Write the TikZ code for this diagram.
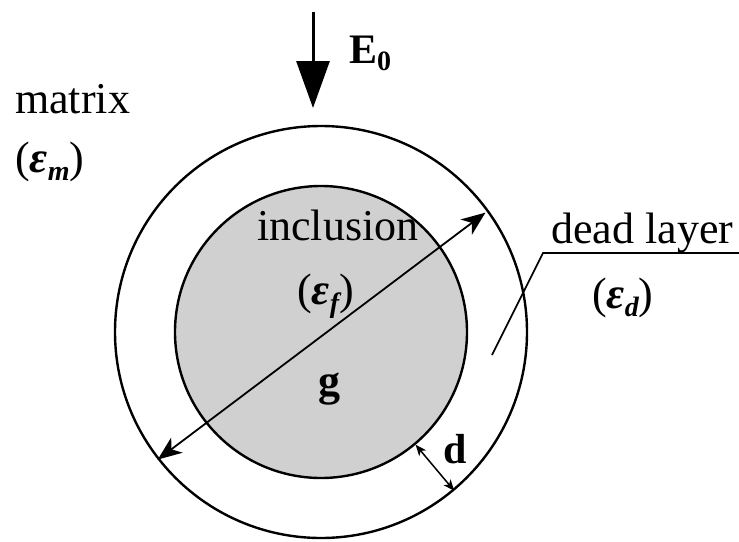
\documentclass[tikz,border=0pt]{standalone}
\usepackage{fontspec}
\setmainfont{Liberation Serif}
\usetikzlibrary{arrows.meta}
\definecolor{inclgray}{RGB}{208,208,208}
\newcommand\lowsub[1]{\raisebox{-0.4ex}{\fontsize{28}{30}\selectfont #1}}
\tikzset{
  ring/.style={circle, draw, line width=2.4pt, inner sep=0pt},
  lbl/.style={inner sep=0pt, anchor=base west, font=\fontsize{44}{50}\selectfont},
  dimarrow/.style={line width=1.8pt, {Stealth[length=24pt,width=19pt,inset=7pt]}-{Stealth[length=24pt,width=19pt,inset=7pt]}},
  smallarrow/.style={line width=1.5pt, {Stealth[length=11pt,width=9pt,inset=3pt]}-{Stealth[length=11pt,width=9pt,inset=3pt]}},
  leader/.style={line width=1.7pt},
  fieldarrow/.style={line width=3pt, -{Triangle[length=47pt,width=33pt]}}
}
\begin{document}
\begin{tikzpicture}[x=1pt, y=-1pt]
\useasboundingbox (0,0) rectangle (739,541);
% circles
\node[ring, minimum size=412pt] (outer) at (321,332) {};
\node[ring, minimum size=292pt, fill=inclgray] (inner) at (321,332) {};
% field arrow
\coordinate (etop) at (313,12);
\coordinate (etip) at (313,108);
\draw[fieldarrow] (etop) -- (etip);
% diameter arrow
\draw[dimarrow, shorten >=4pt] (outer.218) -- (outer.36);
% thickness arrow
\draw[smallarrow] (inner.-50) -- (outer.-50);
% leader line
\coordinate (ldA) at (492,355);
\coordinate (ldB) at (543,253);
\coordinate (ldC) at (739,253);
\draw[leader] (ldA) -- (ldB) -- (ldC);
% labels
\node[lbl] (matrix) at (15,113) {matrix};
\node[lbl] (epsm) at (15,172) {({\bfseries\itshape ε\lowsub{m}})};
\node[lbl, font=\fontsize{42}{46}\selectfont\bfseries] (E0) at (349,63) {E\lowsub{0}};
\node[lbl] (incl) at (257,240) {inclusion};
\node[lbl] (epsf) at (297,304) {({\bfseries\itshape ε\lowsub{f}})};
\node[lbl, font=\fontsize{44}{50}\selectfont\bfseries] (g) at (318,395) {g};
\node[lbl, font=\fontsize{42}{46}\selectfont\bfseries] (d) at (443,463) {d};
\node[lbl] (dead) at (551,243) {dead layer};
\node[lbl] (epsd) at (592,308) {({\bfseries\itshape ε\lowsub{d}})};
\end{tikzpicture}
\end{document}
